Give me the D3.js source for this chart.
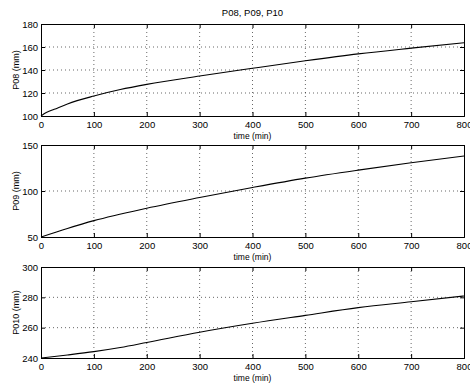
<!DOCTYPE html>
<html><head><meta charset="utf-8">
<script src="https://cdn.jsdelivr.net/npm/d3@7"></script>
<style>
body{margin:0;background:#fff;}
text{font-family:"Liberation Sans",Arial,Helvetica,sans-serif;fill:#000;}
</style></head><body>
<svg id="c" width="470" height="388"></svg>
<script>
const title = "P08, P09, P10";
const xLabel = "time (min)";
const xTicks = [0,100,200,300,400,500,600,700,800];

const timeP08 = [0,10,25,50,100,150,200,300,400,500,600,700,800];
const valP08  = [100,103,105.8,110.5,117.4,123,127.5,134.8,141.5,148,154,159,163.7];
const timeP09 = [0,50,100,200,300,400,500,600,700,800];
const valP09  = [50,59.3,67.8,81.3,92.9,103.8,114,122.7,130.7,138];
const timeP10 = [0,50,100,150,200,300,400,500,600,700,800];
const valP10  = [240,242,244.2,246.9,250.2,257,262.9,268.1,273.2,277.1,280.9];

const panels = [
  {label:"P08 (mm)", t:timeP08, v:valP08, dom:[100,180], ticks:[100,120,140,160,180], top:24, bottom:116},
  {label:"P09 (mm)", t:timeP09, v:valP09, dom:[50,150], ticks:[50,100,150], top:145, bottom:237},
  {label:"P010 (mm)", t:timeP10, v:valP10, dom:[240,300], ticks:[240,260,280,300], top:267, bottom:358}
];

const svg = d3.select("#c");
const L = 41, R = 464;
const x = d3.scaleLinear().domain([0,800]).range([L,R]);

svg.append("text").attr("x",(L+R)/2).attr("y",16).attr("text-anchor","middle")
  .attr("font-size","9.5px").text(title);

panels.forEach(p=>{
  const y = d3.scaleLinear().domain(p.dom).range([p.bottom,p.top]);
  const g = svg.append("g");
  // grid
  g.selectAll(".gx").data(xTicks.slice(1,-1)).enter().append("line")
    .attr("x1",d=>x(d)).attr("x2",d=>x(d)).attr("y1",p.top).attr("y2",p.bottom)
    .attr("stroke","#000").attr("stroke-width",0.6).attr("stroke-dasharray","1,3");
  g.selectAll(".gy").data(p.ticks.slice(1,-1)).enter().append("line")
    .attr("x1",L).attr("x2",R).attr("y1",d=>y(d)).attr("y2",d=>y(d))
    .attr("stroke","#000").attr("stroke-width",0.6).attr("stroke-dasharray","1,3");
  // axes with inward ticks
  const ax = g.append("g").attr("transform",`translate(0,${p.bottom})`)
    .call(d3.axisBottom(x).tickValues(xTicks).tickSize(-4).tickPadding(5).tickFormat(d3.format("d")));
  const axT = g.append("g").attr("transform",`translate(0,${p.top})`)
    .call(d3.axisTop(x).tickValues(xTicks).tickSize(-4).tickFormat(""));
  const ay = g.append("g").attr("transform",`translate(${L},0)`)
    .call(d3.axisLeft(y).tickValues(p.ticks).tickSize(-4).tickPadding(3).tickFormat(d3.format("d")));
  const ayR = g.append("g").attr("transform",`translate(${R},0)`)
    .call(d3.axisRight(y).tickValues(p.ticks).tickSize(-4).tickFormat(""));
  [ax,axT,ay,ayR].forEach(a=>{
    a.select(".domain").attr("stroke","#000").attr("stroke-width",1);
    a.selectAll(".tick line").attr("stroke","#000").attr("stroke-width",1);
    a.selectAll("text").attr("font-size","9.5px").attr("font-family","Liberation Sans, Arial, sans-serif");
  });
  // line
  const pts = p.t.map((t,i)=>[t,p.v[i]]);
  g.append("path").datum(pts)
    .attr("fill","none").attr("stroke","#000").attr("stroke-width",1.1)
    .attr("d",d3.line().x(d=>x(d[0])).y(d=>y(d[1])).curve(d3.curveMonotoneX));
  // labels
  svg.append("text").attr("x",(L+R)/2).attr("y",p.bottom+22.5).attr("text-anchor","middle")
    .attr("font-size","8.5px").text(xLabel);
  svg.append("text").attr("transform",`translate(19,${(p.top+p.bottom)/2}) rotate(-90)`)
    .attr("text-anchor","middle").attr("font-size","9px").text(p.label);
});
</script></body></html>
